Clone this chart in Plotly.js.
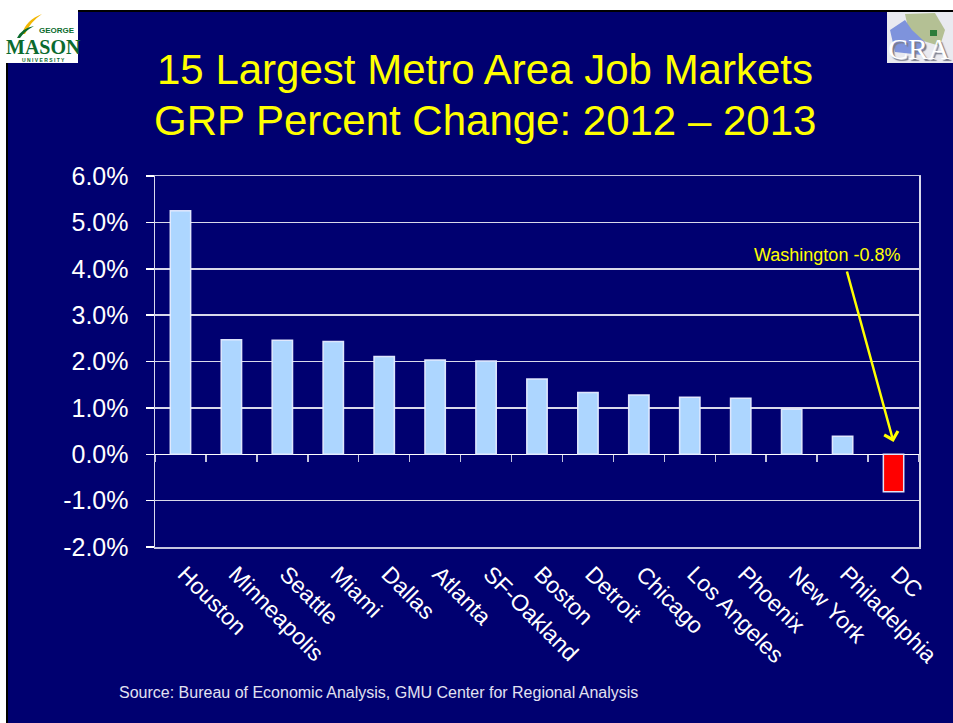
<!DOCTYPE html>
<html>
<head>
<meta charset="utf-8">
<script src="https://cdn.plot.ly/plotly-3.0.1.min.js"></script>
<style>
  html, body { margin: 0; padding: 0; background: #ffffff; }
  #chart { width: 953px; height: 723px; }
</style>
</head>
<body>
<div id="chart"></div>
<script>
// ---- data ----
var cities = ['Houston','Minneapolis','Seattle','Miami','Dallas','Atlanta','SF-Oakland','Boston','Detroit','Chicago','Los Angeles','Phoenix','New York','Philadelphia','DC'];
var grpChange = [5.25, 2.47, 2.46, 2.43, 2.11, 2.03, 2.01, 1.62, 1.33, 1.28, 1.23, 1.21, 0.97, 0.39, -0.81];
var yTickVals = [-2, -1, 0, 1, 2, 3, 4, 5, 6];
var yTickText = ['-2.0%', '-1.0%', '0.0%', '1.0%', '2.0%', '3.0%', '4.0%', '5.0%', '6.0%'];
var titleLine1 = '15 Largest Metro Area Job Markets';
var titleLine2 = 'GRP Percent Change: 2012 \u2013 2013';
var calloutText = 'Washington -0.8%';
var sourceText = 'Source: Bureau of Economic Analysis, GMU Center for Regional Analysis';

// ---- layout helpers (page pixels -> paper fraction) ----
var W = 953, H = 723;
var L = 155, R = 919, T = 176, B = 547;
function X(px) { return (px - L) / (R - L); }
function Y(py) { return (B - py) / (B - T); }

var NAVY = '#000070';
var FONT = 'Arial, "Liberation Sans", sans-serif';
var SERIF = '"Liberation Serif", "DejaVu Serif", serif';

var barColors = grpChange.map(function (v) { return v < 0 ? '#ff0000' : '#add6ff'; });

var traces = [
  {
    type: 'bar',
    x: cities,
    y: grpChange,
    marker: { color: barColors, line: { color: 'rgba(230,236,255,0.95)', width: 1.5 } },
    hoverinfo: 'skip',
    showlegend: false
  },
  {
    type: 'scatter',
    mode: 'markers',
    x: cities,
    y: grpChange,
    xaxis: 'x2',
    marker: { opacity: 0, size: 1 },
    hoverinfo: 'skip',
    showlegend: false
  }
];

var shapes = [
  // slide background
  { type: 'rect', xref: 'paper', yref: 'paper', x0: X(6), x1: X(960), y0: Y(730), y1: Y(10),
    fillcolor: NAVY, line: { width: 0 }, layer: 'below' },
  // slide border (top, left)
  { type: 'line', xref: 'paper', yref: 'paper', x0: X(6), x1: X(953), y0: Y(11), y1: Y(11),
    line: { color: '#000000', width: 2 }, layer: 'below' },
  { type: 'line', xref: 'paper', yref: 'paper', x0: X(7), x1: X(7), y0: Y(10), y1: Y(723),
    line: { color: '#000000', width: 2 }, layer: 'below' },
  // GMU logo box
  { type: 'rect', xref: 'paper', yref: 'paper', x0: X(6), x1: X(78), y0: Y(63), y1: Y(10),
    fillcolor: '#ffffff', line: { width: 0 } },
  // GMU swoosh
  { type: 'path', xref: 'paper', yref: 'paper',
    path: 'M ' + X(22) + ',' + Y(34) + ' Q ' + X(26) + ',' + Y(20) + ' ' + X(42) + ',' + Y(14) +
          ' Q ' + X(30) + ',' + Y(22) + ' ' + X(25) + ',' + Y(34) + ' Z',
    fillcolor: '#f2b705', line: { width: 0 } },
  { type: 'path', xref: 'paper', yref: 'paper',
    path: 'M ' + X(17) + ',' + Y(38) + ' Q ' + X(22) + ',' + Y(28) + ' ' + X(34) + ',' + Y(26) +
          ' Q ' + X(25) + ',' + Y(31) + ' ' + X(20) + ',' + Y(38) + ' Z',
    fillcolor: '#0b6b2e', line: { width: 0 } },
  // CRA logo box
  { type: 'rect', xref: 'paper', yref: 'paper', x0: X(887), x1: X(960), y0: Y(63), y1: Y(12),
    fillcolor: '#e9eaf0', line: { width: 0 } },
  { type: 'path', xref: 'paper', yref: 'paper',
    path: 'M ' + X(905) + ',' + Y(14) + ' L ' + X(935) + ',' + Y(13) + ' L ' + X(945) + ',' + Y(30) +
          ' L ' + X(940) + ',' + Y(46) + ' L ' + X(920) + ',' + Y(40) + ' L ' + X(908) + ',' + Y(28) + ' Z',
    fillcolor: '#b4c094', line: { width: 0 } },
  { type: 'path', xref: 'paper', yref: 'paper',
    path: 'M ' + X(890) + ',' + Y(30) + ' L ' + X(905) + ',' + Y(20) + ' L ' + X(912) + ',' + Y(30) +
          ' L ' + X(925) + ',' + Y(42) + ' L ' + X(922) + ',' + Y(55) + ' L ' + X(895) + ',' + Y(52) + ' Z',
    fillcolor: '#7e93dc', line: { width: 0 } },
  { type: 'rect', xref: 'paper', yref: 'paper', x0: X(930), x1: X(937), y0: Y(36), y1: Y(30),
    fillcolor: '#2e7d3a', line: { width: 0 } }
];

var annotations = [
  // titles
  { xref: 'paper', yref: 'paper', x: X(485), y: Y(70), text: titleLine1, showarrow: false,
    xanchor: 'center', yanchor: 'middle', font: { family: FONT, size: 42, color: '#ffff00' } },
  { xref: 'paper', yref: 'paper', x: X(485), y: Y(121), text: titleLine2, showarrow: false,
    xanchor: 'center', yanchor: 'middle', font: { family: FONT, size: 42, color: '#ffff00' } },
  // callout arrow
  { xref: 'x', yref: 'paper', x: cities[cities.length - 1], y: Y(442), text: '', showarrow: true,
    ax: -47, ay: -172, arrowcolor: '#ffff00', arrowwidth: 2.5, arrowhead: 4, arrowsize: 1.1, standoff: 0 },
  { xref: 'paper', yref: 'paper', x: X(827), y: Y(255), text: calloutText, showarrow: false,
    xanchor: 'center', yanchor: 'middle', font: { family: FONT, size: 18, color: '#ffff00' } },
  // source
  { xref: 'paper', yref: 'paper', x: X(378), y: Y(692), text: sourceText, showarrow: false,
    xanchor: 'center', yanchor: 'middle', font: { family: FONT, size: 16, color: '#e2e2f2' } },
  // GMU logo text
  { xref: 'paper', yref: 'paper', x: X(77), y: Y(31), text: 'GEORGE', showarrow: false,
    xanchor: 'right', yanchor: 'middle', font: { family: FONT, size: 8, color: '#0b6b2e', weight: 'bold' } },
  { xref: 'paper', yref: 'paper', x: X(43), y: Y(47), text: '<b>MASON</b>', showarrow: false,
    xanchor: 'center', yanchor: 'middle', font: { family: SERIF, size: 20, color: '#0b6b2e' } },
  { xref: 'paper', yref: 'paper', x: X(43), y: Y(60), text: '<b>U N I V E R S I T Y</b>', showarrow: false,
    xanchor: 'center', yanchor: 'middle', font: { family: FONT, size: 5, color: '#0b6b2e' } },
  // CRA logo text
  { xref: 'paper', yref: 'paper', x: X(919), y: Y(49), text: 'CRA', showarrow: false,
    xanchor: 'center', yanchor: 'middle',
    font: { family: SERIF, size: 30, color: '#ffffff', shadow: '2px 2px 1px #7a7c8a' } }
];

var layout = {
  width: W, height: H,
  margin: { l: L, r: W - R, t: T, b: H - B, pad: 0 },
  paper_bgcolor: '#ffffff',
  plot_bgcolor: NAVY,
  font: { family: FONT, color: '#ffffff' },
  bargap: 0.6,
  showlegend: false,
  hovermode: false,
  xaxis: {
    type: 'category', categoryorder: 'array', categoryarray: cities,
    range: [-0.5, cities.length - 0.5],
    tickangle: 45, ticks: '', tickfont: { family: FONT, size: 23, color: '#ffffff' },
    ticklabelstandoff: 3, ticklabelshift: 4,
    showline: true, linecolor: '#c4c4de', linewidth: 1.5, mirror: true,
    showgrid: false, zeroline: false, fixedrange: true
  },
  xaxis2: {
    type: 'category', categoryorder: 'array', categoryarray: cities,
    range: [-0.5, cities.length - 0.5],
    overlaying: 'x', anchor: 'free', position: 0.25,
    ticks: 'outside', tickson: 'boundaries', ticklen: 7, tickwidth: 1.5, tickcolor: '#c4c4de',
    showticklabels: false, showgrid: false, zeroline: false, showline: false, fixedrange: true
  },
  yaxis: {
    range: [-2, 6], tickvals: yTickVals, ticktext: yTickText,
    tickfont: { family: FONT, size: 25, color: '#ffffff' },
    ticks: 'outside', ticklen: 8, tickwidth: 1.5, tickcolor: '#ffffff', ticklabelstandoff: 12,
    showgrid: true, gridcolor: 'rgba(255,255,255,0.85)', gridwidth: 1.5,
    zeroline: true, zerolinecolor: '#ffffff', zerolinewidth: 1.5,
    showline: true, linecolor: '#d8d8ec', linewidth: 1.5, mirror: true, fixedrange: true
  },
  shapes: shapes,
  annotations: annotations
};

Plotly.newPlot('chart', traces, layout, { displayModeBar: false, staticPlot: true });
</script>
</body>
</html>
